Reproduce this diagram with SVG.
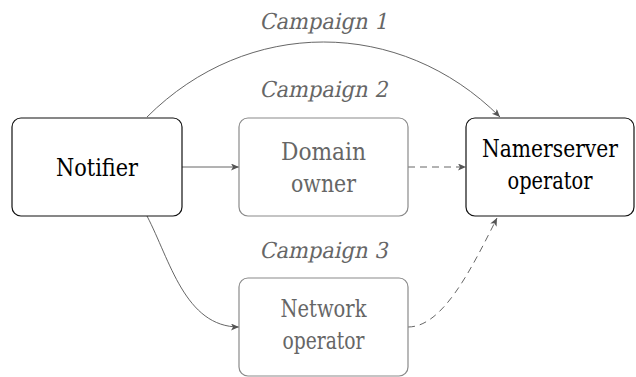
<svg xmlns="http://www.w3.org/2000/svg" width="636" height="377" viewBox="0 0 636 377">
<style>
.box{fill:#fff;stroke-width:1.2}
.dark{stroke:#111}
.light{stroke:#8a8a8a}
.t{font-family:'DejaVu Serif','Liberation Serif',serif;font-size:24px;text-anchor:middle}
.td{fill:#000}
.tl{fill:#666}
.lab{font-family:'DejaVu Serif','Liberation Serif',serif;font-size:22px;fill:#666;text-anchor:middle}
.c{fill:none;stroke:#555;stroke-width:0.9}
.dash{stroke-dasharray:7,5}
</style>
<defs>
<marker id="ar" markerUnits="userSpaceOnUse" markerWidth="10" markerHeight="8" refX="8" refY="3.5" orient="auto">
<path d="M0,0 L8,3.5 L0,7 L2,3.5 Z" fill="#555"/>
</marker>
</defs>
<g id="labels">
<g transform="translate(323.5,29) skewX(-12)"><text class="lab" x="0" y="0" textLength="128" lengthAdjust="spacingAndGlyphs">Campaign 1</text></g>
<g transform="translate(323.5,97) skewX(-12)"><text class="lab" x="0" y="0" textLength="128" lengthAdjust="spacingAndGlyphs">Campaign 2</text></g>
<g transform="translate(323.5,258) skewX(-12)"><text class="lab" x="0" y="0" textLength="128" lengthAdjust="spacingAndGlyphs">Campaign 3</text></g>
</g>
<g id="connectors">
<path class="c" d="M147,117 C247,17 400,17 500,117" marker-end="url(#ar)"/>
<path class="c" d="M182,167 L239,167" marker-end="url(#ar)"/>
<path class="c dash" d="M408,167 L466,167" marker-end="url(#ar)"/>
<path class="c" d="M147,216 C170,260 185,327 239,327" marker-end="url(#ar)"/>
<path class="c dash" d="M408,327 C442,327 470,272 497,218" marker-end="url(#ar)"/>
</g>
<g id="notifier">
<rect class="box dark" x="12" y="118" width="170" height="98" rx="9"/>
<text class="t td" x="97" y="176" textLength="82" lengthAdjust="spacingAndGlyphs">Notifier</text>
</g>
<g id="domain-owner">
<rect class="box light" x="239" y="118" width="169" height="98" rx="9"/>
<text class="t tl" x="323.5" y="160" textLength="85" lengthAdjust="spacingAndGlyphs">Domain</text>
<text class="t tl" x="323.5" y="192" textLength="65" lengthAdjust="spacingAndGlyphs">owner</text>
</g>
<g id="nameserver-operator">
<rect class="box dark" x="466" y="118" width="168" height="98" rx="9"/>
<text class="t td" x="550" y="157" font-size="22" textLength="136" lengthAdjust="spacingAndGlyphs">Namerserver</text>
<text class="t td" x="550" y="189" textLength="85" lengthAdjust="spacingAndGlyphs">operator</text>
</g>
<g id="network-operator">
<rect class="box light" x="239" y="278" width="169" height="98" rx="9"/>
<text class="t tl" x="323.5" y="317" textLength="86" lengthAdjust="spacingAndGlyphs">Network</text>
<text class="t tl" x="323.5" y="349" textLength="82" lengthAdjust="spacingAndGlyphs">operator</text>
</g>
</svg>
